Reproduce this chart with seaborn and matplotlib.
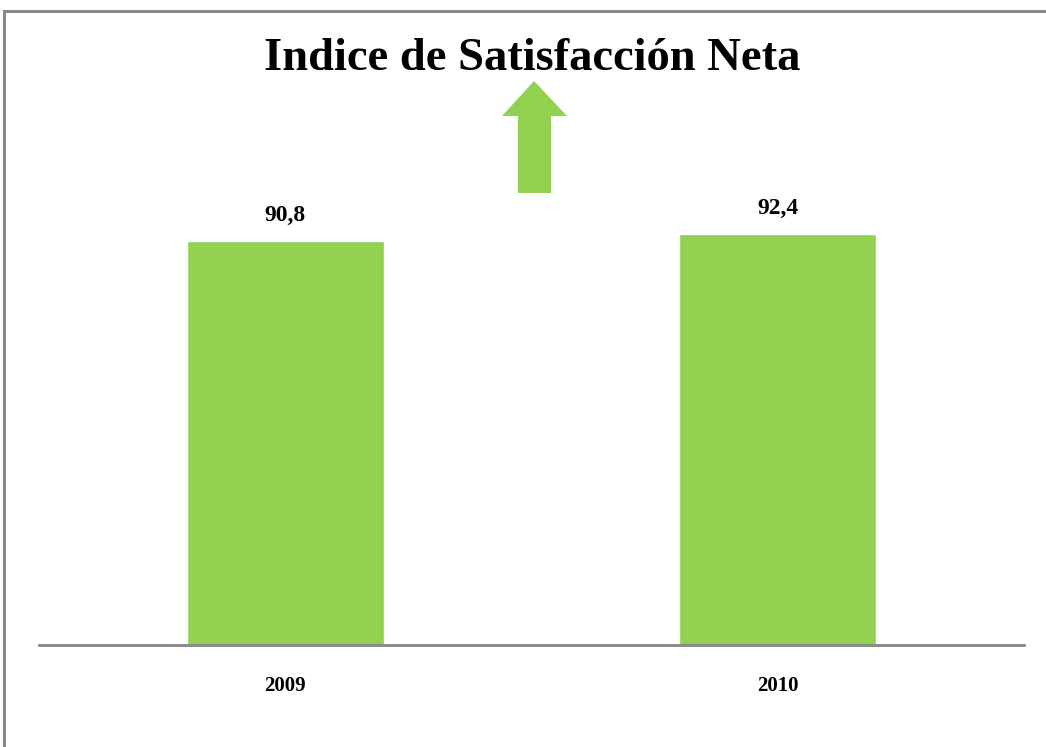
import matplotlib
matplotlib.use("Agg")
import matplotlib.pyplot as plt
import seaborn as sns
import pandas as pd
from matplotlib.patches import Polygon, Rectangle

years = ["2009", "2010"]
values = [90.8, 92.4]
value_labels = ["90,8", "92,4"]
title = "Indice de Satisfacción Neta"

sns.set_theme(style="white")
plt.rcParams['font.family'] = ['Liberation Serif', 'DejaVu Serif']

W, H = 1046, 747
fig = plt.figure(figsize=(W / 100, H / 100), dpi=100)
fig.patch.set_facecolor("white")

def fx(px):
    return px / W

def fy(py):
    return 1 - py / H

ax = fig.add_axes([fx(39), fy(645), fx(1024) - fx(39), fy(200) - fy(645)])
df = pd.DataFrame({"year": years, "value": values})
sns.barplot(data=df, x="year", y="value", color="#92D050", saturation=1,
            width=0.4, ax=ax)
ax.set_ylim(0, 100)
ax.set_xlim(-0.5, 1.5)
ax.set_xlabel("")
ax.set_ylabel("")
ax.set_yticks([])
for s in ["top", "right", "left"]:
    ax.spines[s].set_visible(False)
ax.spines["bottom"].set_color("#868686")
ax.spines["bottom"].set_linewidth(2)
ax.tick_params(axis="x", length=0, pad=22, colors="black")
for lab in ax.get_xticklabels():
    lab.set_fontsize(15)
    lab.set_fontweight("bold")
    lab.set_color("black")
ax.set_facecolor("white")

for i, (v, t) in enumerate(zip(values, value_labels)):
    ax.annotate(t, (i, v), xytext=(0, 11), textcoords="offset points",
                ha="center", va="bottom", fontsize=17, fontweight="bold",
                color="black")

fig.text(fx(532), fy(59), title, ha="center", va="center", fontsize=33.5,
         fontweight="bold", color="black")

# decorative up arrow
arrow_px = [(534, 81), (567, 116), (551, 116), (551, 193), (518, 193),
            (518, 116), (502, 116)]
fig.patches.append(Polygon([(fx(x), fy(y)) for x, y in arrow_px], closed=True,
                           transform=fig.transFigure, facecolor="#92D050",
                           edgecolor="none"))

# outer border
fig.patches.append(Rectangle((fx(4), fy(760)), fx(1060) - fx(4), fy(11) - fy(760),
                             transform=fig.transFigure, fill=False,
                             edgecolor="#888888", linewidth=2.2))

fig.savefig("out.png", dpi=100, facecolor="white")
